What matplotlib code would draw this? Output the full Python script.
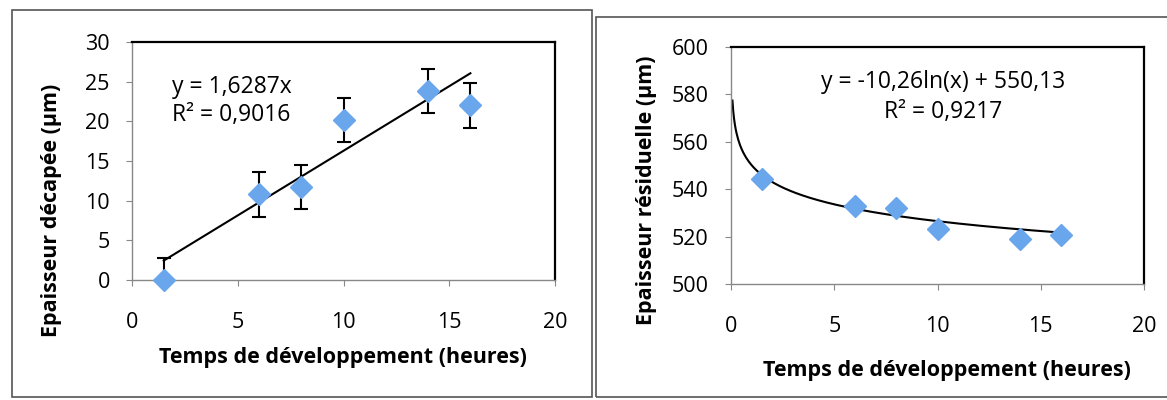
import numpy as np
import matplotlib.pyplot as plt
from matplotlib.patches import Rectangle

# Measurements: development time (hours)
temps = [1.5, 6, 8, 10, 14, 16]
# Stripped thickness (um) with error bars
epaisseur_decapee = [0, 10.8, 11.7, 20.2, 23.8, 22.0]
erreur = [2.8, 2.8, 2.8, 2.8, 2.8, 2.8]
# Residual thickness (um)
epaisseur_residuelle = [544.5, 533.0, 532.0, 523.0, 519.0, 520.5]

# Trendline coefficients
pente = 1.6287
a_log, b_log = -10.26, 550.13

plt.rcParams['font.family'] = ['Open Sans', 'DejaVu Sans']
bleu = '#6aa6ec'
W, H = 1167, 400

fig = plt.figure(figsize=(11.67, 4.0), dpi=100)

# panel frames
fig.patches.append(Rectangle((12 / W, 3 / H), 580 / W, 387 / H, transform=fig.transFigure,
                             fill=False, ec='#555555', lw=1.2))
fig.patches.append(Rectangle((596 / W, 3 / H), 580 / W, 380 / H, transform=fig.transFigure,
                             fill=False, ec='#555555', lw=1.2))


def style_axes(ax):
    for s in ['top', 'right']:
        ax.spines[s].set_color('black')
        ax.spines[s].set_linewidth(1.6)
    for s in ['left', 'bottom']:
        ax.spines[s].set_color('#888888')
        ax.spines[s].set_linewidth(1.0)
    ax.tick_params(axis='both', labelsize=15.5, color='#888888', length=4, direction='out')
    ax.tick_params(axis='x', pad=19)
    ax.tick_params(axis='y', pad=12)


# --- left: stripped thickness ---
ax1 = fig.add_axes([132 / W, 1 - 280 / H, 423 / W, 238 / H])
ax1.errorbar(temps, epaisseur_decapee, yerr=erreur, fmt='none', ecolor='black',
             elinewidth=1.5, capsize=5, capthick=1.5, zorder=2)
ax1.plot(temps, epaisseur_decapee, 'D', color=bleu, markersize=11, zorder=3, clip_on=False)
xl = np.array([temps[0], temps[-1]])
ax1.plot(xl, pente * xl, color='black', lw=1.5, zorder=2)
ax1.set_xlim(0, 20)
ax1.set_ylim(0, 30)
ax1.set_xticks([0, 5, 10, 15, 20])
ax1.set_yticks([0, 5, 10, 15, 20, 25, 30])
style_axes(ax1)
ax1.set_xlabel('Temps de développement (heures)', fontsize=15.5, fontweight='bold')
ax1.set_ylabel('Epaisseur décapée (µm)', fontsize=15.5, fontweight='bold')
ax1.xaxis.set_label_coords(0.499, -0.282)
ax1.yaxis.set_label_coords(-0.165, 0.294)
ax1.text(1.9, 24.3, 'y = 1,6287x', fontsize=16.5, va='center')
ax1.text(1.9, 20.8, 'R² = 0,9016', fontsize=16.5, va='center')

# --- right: residual thickness ---
ax2 = fig.add_axes([731 / W, 1 - 284 / H, 413 / W, 237 / H])
xc = np.linspace(0.07, temps[-1], 400)
ax2.plot(xc, a_log * np.log(xc) + b_log, color='black', lw=1.5, zorder=2)
ax2.plot(temps, epaisseur_residuelle, 'D', color=bleu, markersize=11, zorder=3)
ax2.set_xlim(0, 20)
ax2.set_ylim(500, 600)
ax2.set_xticks([0, 5, 10, 15, 20])
ax2.set_yticks([500, 520, 540, 560, 580, 600])
style_axes(ax2)
ax2.set_xlabel('Temps de développement (heures)', fontsize=15.5, fontweight='bold')
ax2.set_ylabel('Epaisseur résiduelle (µm)', fontsize=15.5, fontweight='bold')
ax2.xaxis.set_label_coords(0.523, -0.321)
ax2.yaxis.set_label_coords(-0.179, 0.397)
ax2.text(10.27, 585.2, 'y = -10,26ln(x) + 550,13', fontsize=16.5, ha='center', va='center')
ax2.text(10.27, 572.6, 'R² = 0,9217', fontsize=16.5, ha='center', va='center')

fig.savefig('out.png', dpi=100)
